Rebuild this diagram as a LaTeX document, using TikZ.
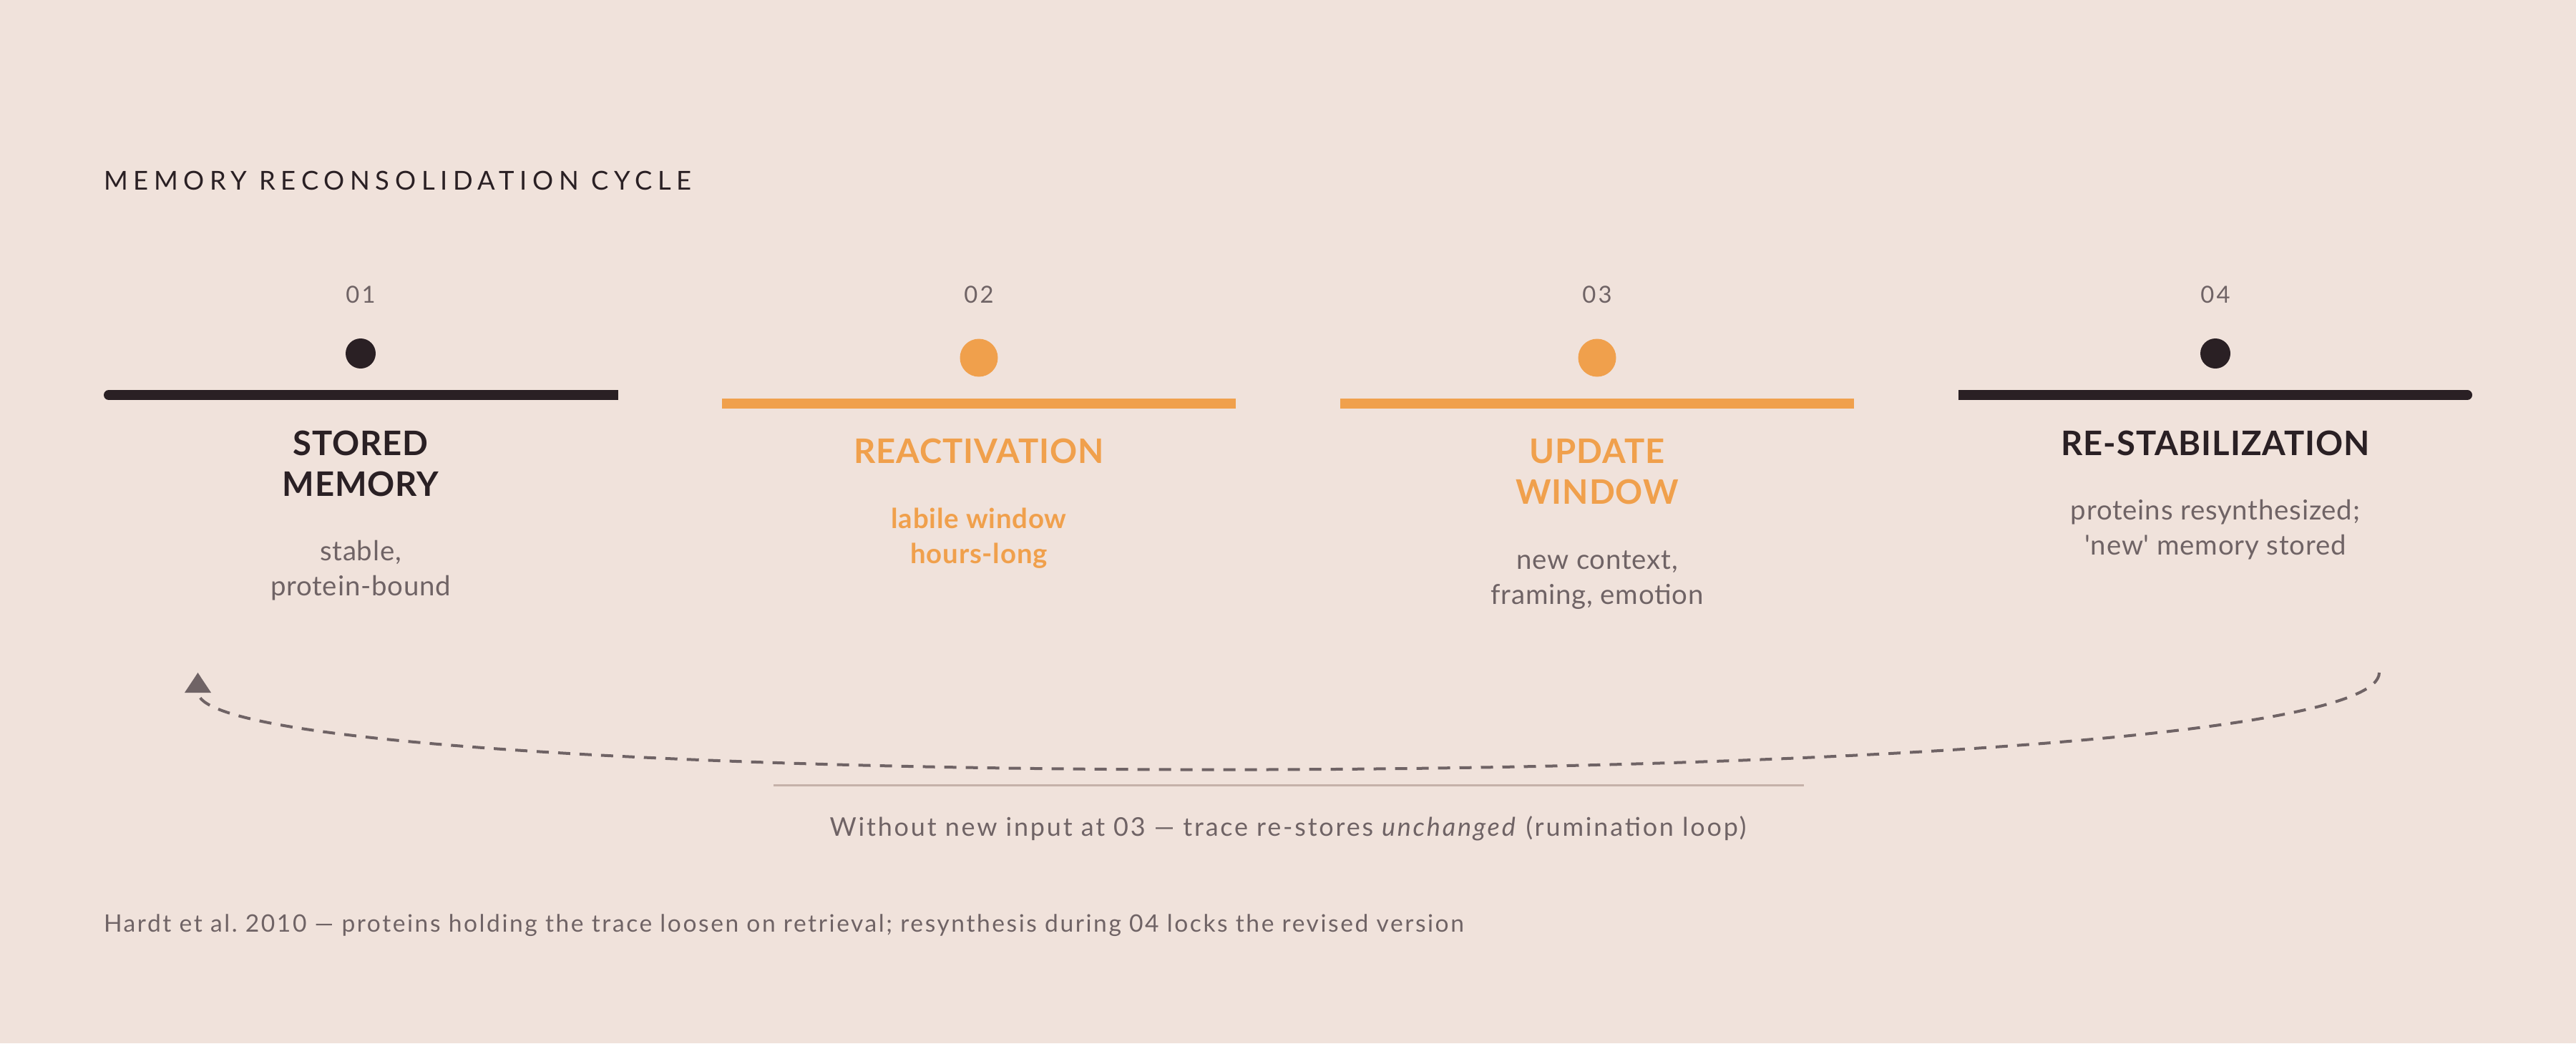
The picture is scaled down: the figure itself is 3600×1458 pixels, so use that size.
\documentclass[tikz,border=0pt]{standalone}
\usepackage{fontspec}
\setmainfont{Lato}
\newfontfamily\spacedfont[LetterSpace=21]{Lato}
\newfontfamily\numfont[LetterSpace=10]{Lato}
\newfontfamily\bodyfont[LetterSpace=2]{Lato}
\newfontfamily\capfont[LetterSpace=7.8]{Lato}
\newfontfamily\notefont[LetterSpace=7.6]{Lato}
\usetikzlibrary{arrows.meta}
\definecolor{bg}{HTML}{F0E2DB}
\definecolor{ink}{HTML}{2A2024}
\definecolor{amber}{HTML}{F0A04C}
\definecolor{muted}{HTML}{6F6365}
\definecolor{rulec}{HTML}{C5B1A9}
\frenchspacing
\tikzset{
  lbl/.style={inner sep=0pt, outer sep=0pt, anchor=base},
  heading/.style={lbl, anchor=base west, text=ink, font=\fontsize{9.1pt}{11pt}\selectfont\spacedfont},
  stepnum/.style={lbl, text=muted, font=\fontsize{8.2pt}{10pt}\selectfont\numfont},
  steptitle/.style={lbl, font=\fontsize{11.8pt}{13pt}\selectfont\bodyfont\bfseries},
  stepdesc/.style={lbl, text=muted, font=\fontsize{9.6pt}{11pt}\selectfont\bodyfont},
  activedesc/.style={lbl, text=amber, font=\fontsize{9.6pt}{11pt}\selectfont\bodyfont\bfseries},
  darkdot/.style={circle, fill=ink, inner sep=0pt, minimum size=10.5pt},
  activedot/.style={circle, fill=amber, inner sep=0pt, minimum size=13.25pt},
  caption/.style={lbl, text=muted, font=\fontsize{9pt}{11pt}\selectfont\capfont},
  footnote/.style={lbl, anchor=base west, text=muted, font=\fontsize{8.4pt}{10pt}\selectfont\notefont},
  looparrow/.style={draw=muted, line width=1pt, dash pattern=on 4.25pt off 3.25pt,
    -{Triangle[length=7pt,width=9pt]}},
}
\begin{document}
\begin{tikzpicture}[x=0.25pt,y=-0.25pt]
\fill[bg] (0,0) rectangle (3600,1458);
\useasboundingbox (0,0) rectangle (3600,1458);

\node[heading] (head) at (145,265) {MEMORY RECONSOLIDATION CYCLE};

% step numbers
\node[stepnum] (n1) at (504,423) {01};
\node[stepnum] (n2) at (1368,423) {02};
\node[stepnum] (n3) at (2232,423) {03};
\node[stepnum] (n4) at (3096,423) {04};

% dots
\node[darkdot] (p1) at (504,494) {};
\node[activedot] (p2) at (1368,500) {};
\node[activedot] (p3) at (2232,500) {};
\node[darkdot] (p4) at (3096,494) {};

% bars
\draw[ink, line width=3.5pt, line cap=round] (152,552) -- (856,552);
\fill[ink] (840,545) rectangle (863.5,559);
\fill[amber] (1009,557) rectangle (1727,571);
\fill[amber] (1873,557) rectangle (2591,571);
\fill[ink] (2737,545) rectangle (2760,559);
\draw[ink, line width=3.5pt, line cap=round] (2744,552) -- (3448,552);

% titles
\node[steptitle, text=ink] (t1a) at (504,636) {STORED};
\node[steptitle, text=ink] (t1b) at (504,693) {MEMORY};
\node[steptitle, text=amber] (t2) at (1368,647) {REACTIVATION};
\node[steptitle, text=amber] (t3a) at (2232,647) {UPDATE};
\node[steptitle, text=amber] (t3b) at (2232,704) {WINDOW};
\node[steptitle, text=ink] (t4) at (3096,636) {RE-STABILIZATION};

% descriptions
\node[stepdesc] (d1a) at (504,783) {stable,};
\node[stepdesc] (d1b) at (504,832) {protein-bound};
\node[activedesc] (d2a) at (1368,738) {labile window};
\node[activedesc] (d2b) at (1368,787) {hours-long};
\node[stepdesc] (d3a) at (2232,795) {new context,};
\node[stepdesc] (d3b) at (2232,844) {framing, emotion};
\node[stepdesc] (d4a) at (3096,726) {proteins resynthesized;};
\node[stepdesc] (d4b) at (3096,775) {\addfontfeatures{Ligatures=TeXOff}'new' memory stored};

% loop
\coordinate (loopstart) at (3325,940);
\coordinate (loopend) at (276.5,940);
\draw[looparrow] (loopstart) .. controls (3325,1116) and (276.5,1116) .. (loopend);

% rule and caption
\coordinate (rulea) at (1081,1097);
\coordinate (ruleb) at (2521,1097);
\draw[rulec, line width=0.75pt] (rulea) -- (ruleb);
\node[caption] (cap) at (1800,1168) {Without new input at 03 — trace re-stores \textit{unchanged} (rumination loop)};

\node[footnote] (foot) at (145,1302) {Hardt et al. 2010 — proteins holding the trace loosen on retrieval; resynthesis during 04 locks the revised version};
\end{tikzpicture}
\end{document}
